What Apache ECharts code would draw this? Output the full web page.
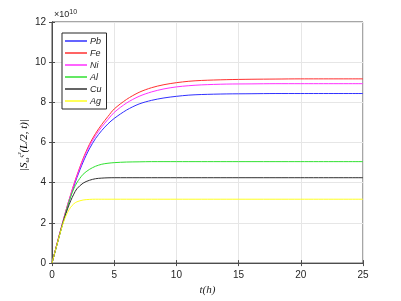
<!DOCTYPE html>
<html><head><meta charset="utf-8">
<script src="https://cdn.jsdelivr.net/npm/echarts@6/dist/echarts.min.js"></script>
<style>html,body{margin:0;padding:0;background:#fff}#c{width:401px;height:301px}</style>
</head><body><div id="c"></div>
<script>
// time (h)
const tValues = [0,0.25,0.5,0.75,1,1.25,1.5,1.75,2,2.5,3,3.5,4,4.5,5,6,7,8,9,10,11,12,14,16,18,20,25];
// |S| values in units of 1e10
const Pb = [0,0.59,1.18,1.75,2.3,2.83,3.33,3.8,4.25,5.03,5.68,6.2,6.6,6.93,7.2,7.62,7.92,8.1,8.22,8.3,8.36,8.39,8.42,8.43,8.44,8.44,8.44];
const Fe = [0,0.6,1.2,1.78,2.35,2.9,3.4,3.9,4.36,5.2,5.9,6.45,6.9,7.3,7.67,8.15,8.5,8.73,8.88,8.98,9.05,9.09,9.13,9.15,9.16,9.17,9.17];
const Ni = [0,0.6,1.2,1.78,2.35,2.89,3.4,3.88,4.33,5.15,5.82,6.35,6.78,7.15,7.5,7.97,8.3,8.52,8.67,8.77,8.83,8.87,8.91,8.92,8.93,8.93,8.93];
const Al = [0,0.58,1.15,1.73,2.28,2.82,3.3,3.7,4.0,4.42,4.66,4.82,4.92,4.97,5.0,5.03,5.04,5.05,5.05,5.05,5.05,5.05,5.05,5.05,5.05,5.05,5.05];
const Cu = [0,0.58,1.15,1.72,2.24,2.7,3.1,3.43,3.7,3.98,4.12,4.2,4.23,4.245,4.25,4.25,4.25,4.25,4.25,4.25,4.25,4.25,4.25,4.25,4.25,4.25,4.25];
const Ag = [0,0.58,1.15,1.7,2.17,2.52,2.78,2.95,3.05,3.14,3.17,3.18,3.18,3.18,3.18,3.18,3.18,3.18,3.18,3.18,3.18,3.18,3.18,3.18,3.18,3.18,3.18];
const seriesNames = ['Pb','Fe','Ni','Al','Cu','Ag'];
const seriesData = [Pb,Fe,Ni,Al,Cu,Ag];
const seriesColors = ['#3030ff','#ff3030','#ff30ff','#30e030','#303030','#ffff20'];

const chart = echarts.init(document.getElementById('c'));
const axisCol = '#4d4d4d';
const lblFont = {color:'#262626', fontSize:10, fontFamily:'Liberation Sans'};
const serifI = {fontFamily:'Liberation Serif', fontStyle:'italic', color:'#404040'};
chart.setOption({
  animation:false,
  grid:{left:52,right:38,top:22,bottom:34,show:true,borderColor:axisCol,borderWidth:1,backgroundColor:'#fff'},
  legend:{
    orient:'vertical', left:62, top:33, itemWidth:22, itemHeight:1.5, itemGap:2, icon:'rect',
    padding:[3,5,3,3], borderColor:'#262626', borderWidth:1, backgroundColor:'#fff',
    textStyle:{fontSize:9, fontStyle:'italic', fontFamily:'Liberation Sans', color:'#262626', lineHeight:10, padding:[0,0,0,-2]},
    data:seriesNames
  },
  xAxis:[{
    type:'value', min:0, max:25, interval:5,
    axisLine:{show:true,lineStyle:{color:axisCol}},
    axisTick:{show:true,inside:true,length:3,lineStyle:{color:axisCol}},
    axisLabel:Object.assign({margin:7}, lblFont),
    splitLine:{show:true,lineStyle:{color:'#e6e6e6',width:1}},
    name:'t(h)', nameLocation:'middle', nameGap:21,
    nameTextStyle:{fontFamily:'Liberation Serif', fontStyle:'italic', fontSize:11, color:'#262626'}
  },{
    type:'value', position:'top', min:0, max:25, interval:5,
    axisLine:{show:true,lineStyle:{color:axisCol}},
    axisTick:{show:true,inside:true,length:3,lineStyle:{color:axisCol}},
    axisLabel:{show:false}, splitLine:{show:false}
  }],
  yAxis:[{
    type:'value', min:0, max:12, interval:2,
    axisLine:{show:true,lineStyle:{color:axisCol}},
    axisTick:{show:true,inside:true,length:3,lineStyle:{color:axisCol}},
    axisLabel:Object.assign({margin:6}, lblFont),
    splitLine:{show:true,lineStyle:{color:'#e6e6e6',width:1}}
  },{
    type:'value', position:'right', min:0, max:12, interval:2,
    axisLine:{show:true,lineStyle:{color:axisCol}},
    axisTick:{show:true,inside:true,length:3,lineStyle:{color:axisCol}},
    axisLabel:{show:false}, splitLine:{show:false}
  }],
  graphic:[{
    type:'text', left:54, top:9,
    style:{text:'×10{e|10}', rich:{e:{fontSize:7, verticalAlign:'top', padding:[0,0,5,0]}}, fontSize:9, fill:'#262626', fontFamily:'Liberation Sans'}
  },{
    type:'text', x:24, y:145, rotation:Math.PI/2,
    style:{
      text:'{t|\u007CS}{sub|ω}{sup|ς²}{t|(L/2, t)\u007C}', align:'center', verticalAlign:'middle',
      rich:{
        t:Object.assign({fontSize:11}, serifI),
        sup:Object.assign({fontSize:7, verticalAlign:'top', padding:[0,0,6,0]}, serifI),
        sub:Object.assign({fontSize:7, verticalAlign:'bottom', padding:[6,0,0,0]}, serifI)
      }
    }
  }],
  series: seriesNames.map((n,i)=>({
    name:n, type:'line', symbol:'none', smooth:0.3,
    lineStyle:{width:1,color:seriesColors[i]}, itemStyle:{color:seriesColors[i]},
    data: tValues.map((t,k)=>[t, seriesData[i][k]])
  }))
});
</script></body></html>
